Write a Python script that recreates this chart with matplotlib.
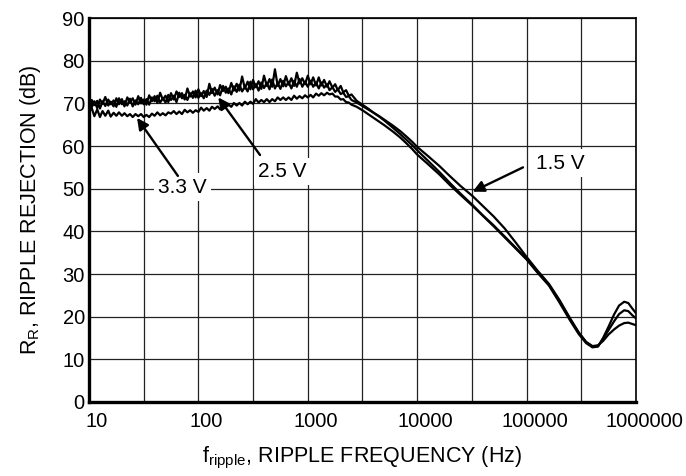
import matplotlib
matplotlib.use("Agg")
import matplotlib.pyplot as plt
import matplotlib.transforms as mtransforms

plt.rcParams['font.family'] = ['Liberation Sans', 'DejaVu Sans']
plt.rcParams['mathtext.fontset'] = 'custom'
plt.rcParams['mathtext.rm'] = 'Liberation Sans'

# ---------------- data ----------------
FREQ_LOW = [10, 10.6, 11.2, 11.9, 12.6, 13.3, 14.1, 15, 15.8, 16.8, 17.8, 18.8, 20, 21.1, 22.4,
            23.7, 25.1, 26.6, 28.2, 29.9, 31.6, 33.5, 35.5, 37.6, 39.8, 42.2, 44.7, 47.3, 50.1,
            53.1, 56.2, 59.6, 63.1, 66.8, 70.8, 75, 79.4, 84.1, 89.1, 94.4,
            100, 106, 112, 119, 126, 133, 141, 150, 158, 168, 178, 188, 200, 211, 224,
            237, 251, 266, 282, 299, 316, 335, 355, 376, 398, 422, 447, 473, 501,
            531, 562, 596, 631, 668, 708, 750, 794, 841, 891, 944,
            1000, 1060, 1120, 1190, 1260, 1330, 1410, 1500, 1580, 1680, 1780, 1880, 2000, 2110,
            2240, 2370, 2510]
FREQ_HIGH = [2800, 3200, 3600, 4000, 4500, 5000, 6000, 7000, 8000, 9000, 10000, 12500, 16000,
             20000, 25000, 32000, 40000, 50000, 63000, 80000, 100000, 125000, 160000, 200000,
             250000, 300000, 350000, 400000, 450000, 500000, 560000, 630000, 700000, 780000,
             850000, 920000, 1000000]

V25_LOW = [71.1, 69.1, 70.5, 68.9, 70.9, 69.9, 71.5, 69.5, 70.4, 69.3, 71.2, 69.8, 71.0, 69.3,
           71.4, 70.3, 71.2, 69.7, 71.7, 70.0, 70.9, 69.7, 71.9, 70.5, 71.7, 70.1, 72.5, 70.9,
           71.8, 70.3, 72.4, 70.9, 72.8, 71.5, 72.4, 70.9, 73.5, 71.6, 72.8, 71.4,
           73.3, 71.7, 72.9, 71.5, 74.6, 72.4, 73.7, 72.1, 74.3, 72.9, 73.9, 72.4, 74.8, 73.0,
           74.6, 73.0, 76.3, 73.5, 75.1, 73.3, 75.5, 73.8, 75.2, 73.4, 76.5, 74.1, 75.7, 73.9,
           78.0, 74.1, 75.7, 74.0, 76.4, 74.4, 75.9, 74.1, 77.2, 74.7, 75.9, 74.5,
           76.5, 74.5, 76.1, 74.2, 76.1, 74.2, 75.5, 73.9, 75.2, 73.7, 74.5, 73.1, 74.1, 72.6,
           73.1, 71.8, 72.1]
V15_LOW = [69.0, 70.8, 69.6, 70.6, 68.8, 70.5, 69.4, 70.9, 69.8, 70.7, 69.2, 71.2, 69.8, 70.5,
           69.5, 71.1, 69.3, 70.7, 69.8, 71.3, 69.8, 71.0, 69.7, 71.4, 70.5, 71.8, 70.2, 71.2,
           70.2, 72.0, 70.8, 71.8, 70.3, 72.5, 71.2, 72.0, 70.8, 72.4, 71.3, 73.0,
           71.3, 72.4, 71.2, 73.0, 72.0, 73.4, 71.8, 73.1, 71.9, 74.1, 72.5, 73.5, 72.1, 74.0,
           72.7, 74.4, 72.8, 73.9, 72.8, 75.1, 73.3, 74.5, 73.0, 74.9, 73.6, 74.8, 73.3, 75.6,
           73.5, 74.8, 73.4, 75.3, 74.0, 75.0, 73.5, 75.3, 73.9, 75.7, 73.9, 75.1,
           73.9, 75.3, 73.9, 74.9, 73.5, 74.9, 73.7, 74.5, 73.1, 73.8, 72.7, 73.3, 72.2, 72.5,
           71.5, 71.7, 70.8]
V33_LOW = [68.0, 68.9, 67.0, 68.6, 66.8, 68.2, 67.1, 68.3, 66.9, 67.8, 67.1, 67.9, 67.1, 67.7,
           67.0, 67.5, 66.8, 67.5, 67.0, 67.5, 66.8, 67.3, 66.8, 67.6, 67.1, 67.9, 67.2, 67.7,
           67.2, 67.9, 67.6, 68.2, 67.5, 68.1, 67.5, 68.5, 67.9, 68.4, 67.8, 68.4,
           68.0, 69.0, 68.3, 68.9, 68.3, 69.2, 68.7, 69.3, 68.6, 69.6, 69.2, 69.7, 69.2, 70.1,
           69.5, 70.1, 69.5, 70.4, 69.8, 70.4, 69.9, 71.0, 70.2, 70.8, 70.3, 71.0, 70.3, 71.0,
           70.5, 71.4, 70.8, 71.4, 70.8, 71.4, 70.8, 71.8, 71.1, 71.7, 71.2, 71.9,
           71.4, 72.0, 71.4, 72.3, 71.8, 72.4, 71.9, 72.5, 72.1, 72.3, 71.6, 71.6, 70.9, 71.0,
           70.3, 70.2, 69.7]

V25_HIGH = [70.6, 69.6, 68.7, 67.8, 66.9, 66.0, 64.3, 62.8, 61.4, 60.2, 59.0, 56.6, 53.9, 51.3,
            48.8, 46.2, 43.7, 41.4, 38.8, 36.1, 33.6, 30.6, 27.5, 23.6, 19.4, 16.2, 14.0, 13.0,
            13.1, 14.8, 16.8, 18.9, 20.6, 21.5, 21.3, 20.4, 19.6]
V15_HIGH = [70.2, 69.3, 68.5, 67.8, 67.0, 66.2, 64.8, 63.5, 62.2, 61.0, 59.8, 57.7, 55.3, 52.9,
            50.6, 48.3, 45.9, 43.5, 40.7, 37.3, 34.0, 30.9, 27.7, 23.9, 19.6, 16.3, 14.1, 13.1,
            13.3, 14.3, 15.8, 17.0, 17.9, 18.5, 18.6, 18.3, 18.0]
V33_HIGH = [69.2, 68.3, 67.4, 66.6, 65.7, 64.9, 63.4, 62.0, 60.6, 59.3, 58.0, 55.8, 53.3, 50.8,
            48.5, 46.0, 43.6, 41.2, 38.6, 35.9, 33.4, 30.4, 27.3, 23.3, 19.1, 15.9, 13.8, 12.8,
            13.0, 15.0, 17.6, 20.5, 22.6, 23.5, 23.2, 22.0, 20.8]

X_TICKS = [10, 100, 1000, 10000, 100000, 1000000]
X_TICK_LABELS = ["10", "100", "1000", "10000", "100000", "1000000"]
X_MINOR = [31.6, 316, 3160, 31600, 316000]
Y_TICKS = [0, 10, 20, 30, 40, 50, 60, 70, 80, 90]

# annotations: (label, text position, arrow tail, arrow tip)
ANNOT = [
    ("3.3 V", (72, 50.4), (65, 53.0), (27.5, 66.6)),
    ("2.5 V", (590, 54.0), (366, 57.9), (152, 71.4)),
    ("1.5 V", (205000, 56.0), (92700, 55.0), (32100, 49.3)),
]

# ---------------- plot ----------------
fig = plt.figure(figsize=(6.86, 4.76), dpi=100)
ax = fig.add_axes([0.1297, 0.1555, 0.9271 - 0.1297, 0.962 - 0.1555])

freq = FREQ_LOW + FREQ_HIGH
for lo, hi in [(V33_LOW, V33_HIGH), (V25_LOW, V25_HIGH), (V15_LOW, V15_HIGH)]:
    ax.plot(freq, lo + hi, color='black', lw=1.6, zorder=3, solid_joinstyle='round')

ax.set_xscale('log')
ax.set_xlim(10, 1e6)
ax.set_ylim(0, 90)
ax.set_xticks(X_TICKS)
ax.set_xticklabels(X_TICK_LABELS)
ax.set_xticks(X_MINOR, minor=True)
ax.set_xticklabels([], minor=True)
ax.set_yticks(Y_TICKS)
ax.set_yticklabels([str(v) for v in Y_TICKS])
ax.tick_params(which='both', length=0)
ax.tick_params(axis='x', pad=7, labelsize=14.5)
ax.tick_params(axis='y', pad=3, labelsize=14.5)

offset = mtransforms.ScaledTranslation(8 / 100, 0, fig.dpi_scale_trans)
for lab in ax.get_xticklabels():
    lab.set_transform(lab.get_transform() + offset)

ax.grid(True, which='both', color='#222222', lw=0.9, zorder=1)
ax.set_axisbelow(True)

for s in ['top', 'right']:
    ax.spines[s].set_linewidth(1.2)
for s in ['left', 'bottom']:
    ax.spines[s].set_linewidth(2.4)

ax.set_xlabel(r'f$_\mathregular{ripple}$, RIPPLE FREQUENCY (Hz)', fontsize=15.5, labelpad=10)
ax.set_ylabel(r'R$_\mathregular{R}$, RIPPLE REJECTION (dB)', fontsize=15.5, labelpad=14)

for label, tpos, tail, tip in ANNOT:
    ax.text(tpos[0], tpos[1], label, fontsize=15, ha='center', va='center', zorder=4,
            bbox=dict(facecolor='white', edgecolor='none', pad=3))
    ax.annotate('', xy=tip, xytext=tail, zorder=5,
                arrowprops=dict(arrowstyle='-|>', color='black', lw=1.7,
                                mutation_scale=17, shrinkA=0, shrinkB=0))

fig.savefig('out.png', dpi=100)
